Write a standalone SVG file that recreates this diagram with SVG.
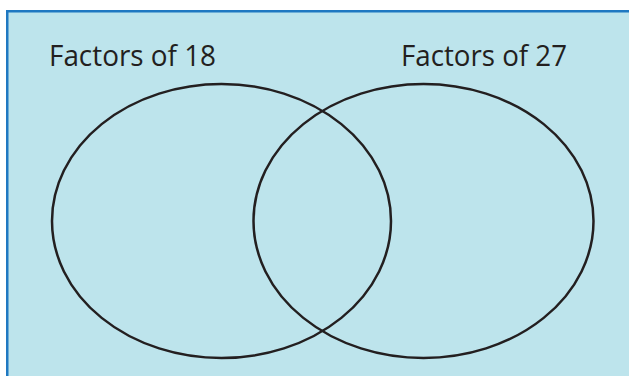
<svg xmlns="http://www.w3.org/2000/svg" width="630" height="376" viewBox="0 0 630 376">
<style>
.set{fill:none;stroke:#231f20;stroke-width:2.5}
.lbl{font-family:"Open Sans","Liberation Sans",sans-serif;font-size:29px;fill:#231f20}
.edge{stroke:#1f78c1;stroke-width:2.5;fill:none}
</style>
<rect x="0" y="0" width="630" height="376" fill="#ffffff"/>
<rect x="7" y="11" width="622" height="365" fill="#bde4ec"/>
<path class="edge" d="M7.25,376 V11.25 H629"/>
<g id="set18">
<ellipse class="set" cx="221.5" cy="221" rx="169.5" ry="137"/>
<text class="lbl" x="49" y="66" textLength="167" lengthAdjust="spacingAndGlyphs">Factors of 18</text>
</g>
<g id="set27">
<ellipse class="set" cx="423.5" cy="221" rx="170" ry="137"/>
<text class="lbl" x="401" y="66" textLength="166" lengthAdjust="spacingAndGlyphs">Factors of 27</text>
</g>
<g id="connectors"></g>
</svg>
